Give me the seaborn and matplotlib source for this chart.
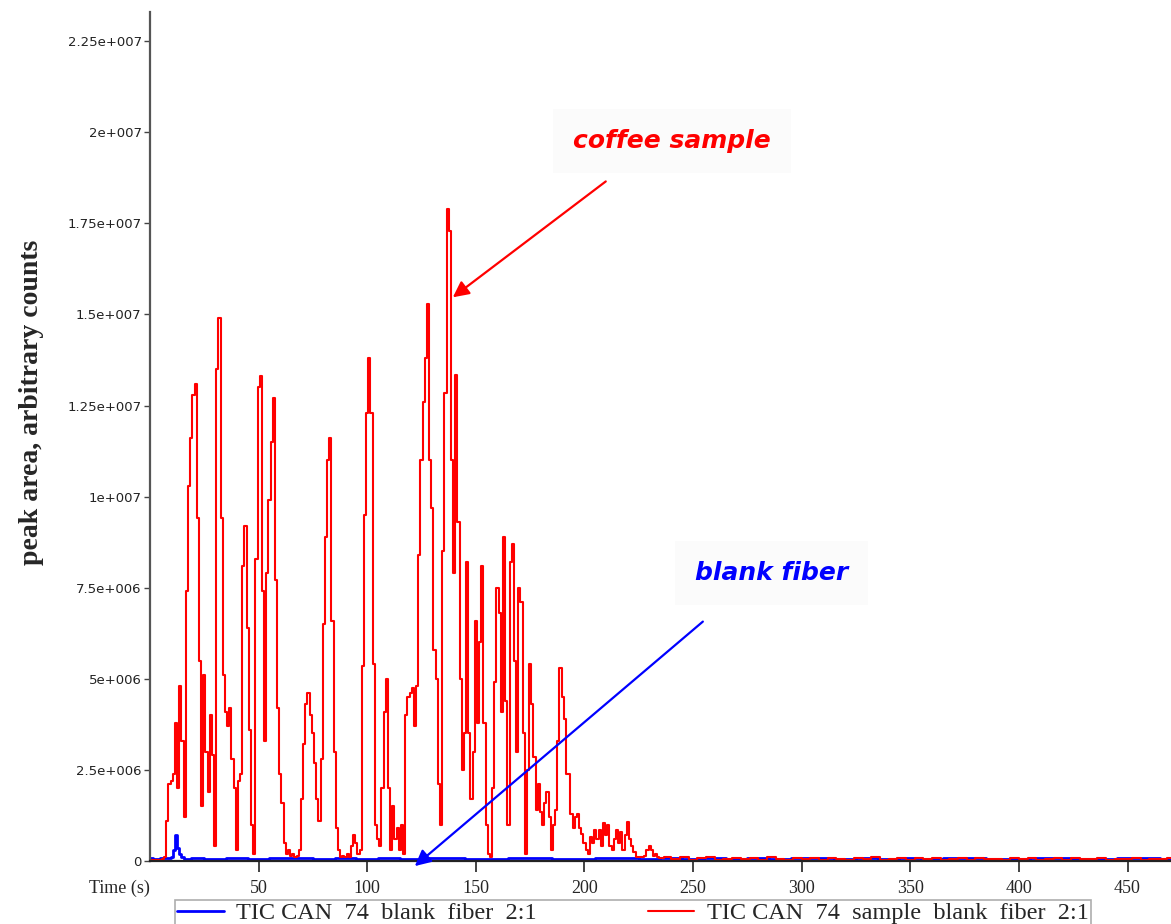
import numpy as np
import pandas as pd
import matplotlib
matplotlib.use("Agg")
import matplotlib.pyplot as plt
from matplotlib.ticker import FuncFormatter
import seaborn as sns

# ---------------- data (counts in millions) ----------------
red_label = "TIC CAN  74  sample  blank  fiber  2:1"
blue_label = "TIC CAN  74  blank  fiber  2:1"

red_main_time = list(range(0, 236))
red_main_vals = [
    0.02, 0.03, 0.02, 0.03, 0.02, 0.03, 0.05, 0.1, 1.1, 2.1,
    2.2, 2.4, 3.8, 2.0, 4.8, 3.3, 1.2, 7.4, 10.3, 11.6,
    12.8, 13.1, 9.4, 5.5, 1.5, 5.1, 3.0, 1.9, 4.0, 2.9,
    0.4, 13.5, 14.9, 9.4, 5.1, 4.1, 3.7, 4.2, 2.8, 2.0,
    0.3, 2.2, 2.4, 8.1, 9.2, 6.4, 3.6, 1.0, 0.2, 8.3,
    13.0, 13.3, 7.4, 3.3, 7.9, 9.9, 11.5, 12.7, 7.7, 4.2,
    2.4, 1.6, 0.5, 0.2, 0.3, 0.15, 0.2, 0.1, 0.15, 0.3,
    1.7, 3.2, 4.3, 4.6, 4.0, 3.5, 2.7, 1.7, 1.1, 2.8,
    6.5, 8.9, 11.0, 11.6, 6.6, 3.0, 0.9, 0.3, 0.1, 0.15,
    0.1, 0.2, 0.1, 0.4, 0.7, 0.5, 0.2, 0.3, 5.35, 9.5,
    12.3, 13.8, 12.3, 5.4, 1.0, 0.6, 0.4, 2.0, 4.1, 5.0,
    2.0, 0.3, 1.5, 0.6, 0.9, 0.3, 1.0, 0.2, 4.0, 4.5,
    4.6, 4.75, 3.7, 4.8, 8.4, 11.0, 12.6, 13.8, 15.3, 11.0,
    9.7, 5.8, 5.0, 2.1, 1.0, 8.5, 12.85, 17.9, 17.3, 11.0,
    7.9, 13.35, 9.3, 5.0, 2.5, 3.5, 8.2, 3.5, 1.7, 3.0,
    6.6, 3.8, 6.0, 8.1, 3.8, 1.0, 0.2, 0.1, 2.0, 4.9,
    7.5, 6.8, 4.1, 8.9, 4.4, 1.0, 8.2, 8.7, 5.5, 3.0,
    7.5, 7.1, 3.5, 0.2, 2.5, 5.4, 4.3, 2.85, 1.4, 2.1,
    1.35, 1.0, 1.6, 1.9, 1.2, 0.3, 1.0, 1.4, 3.3, 5.3,
    4.5, 3.9, 2.4, 2.4, 1.3, 0.9, 1.2, 1.3, 0.9, 0.75,
    0.5, 0.3, 0.2, 0.67, 0.5, 0.85, 0.6, 0.85, 0.4, 1.05,
    0.7, 1.0, 0.4, 0.3, 0.6, 0.85, 0.5, 0.8, 0.3, 0.7,
    1.07, 0.6, 0.4, 0.25, 0.1, 0.1, 0.1, 0.1, 0.15, 0.3,
    0.4, 0.3, 0.15, 0.2, 0.1, 0.08,
]
red_tail_time = list(range(238, 471, 4))
red_tail_vals = [
    0.1, 0.05, 0.12, 0.04, 0.08, 0.1, 0.03, 0.06, 0.09, 0.05,
    0.07, 0.04, 0.1, 0.06, 0.03, 0.08, 0.05, 0.09, 0.04, 0.07,
    0.06, 0.03, 0.08, 0.05, 0.1, 0.04, 0.06, 0.08, 0.03, 0.07,
    0.05, 0.09, 0.04, 0.06, 0.08, 0.03, 0.07, 0.05, 0.06, 0.04,
    0.08, 0.05, 0.07, 0.03, 0.06, 0.09, 0.04, 0.07, 0.05, 0.06,
    0.08, 0.04, 0.06, 0.05, 0.07, 0.03, 0.06, 0.05, 0.07,
]

blue_head_time = [0, 3, 6, 9, 10, 11, 12, 13, 14, 15, 16, 18, 20]
blue_head_vals = [0.07, 0.06, 0.07, 0.08, 0.1, 0.3, 0.7, 0.35, 0.18, 0.1, 0.06, 0.05, 0.07]
blue_tail_time = list(range(30, 471, 10))
blue_tail_vals = [
    0.06, 0.08, 0.05, 0.07, 0.09, 0.06, 0.07, 0.05, 0.08, 0.06,
    0.07, 0.09, 0.05, 0.06, 0.08, 0.07, 0.05, 0.06, 0.09, 0.07,
    0.06, 0.08, 0.05, 0.07, 0.06, 0.09, 0.05, 0.07, 0.08, 0.06,
    0.07, 0.05, 0.08, 0.06, 0.09, 0.07, 0.05, 0.06, 0.08, 0.07,
    0.06, 0.05, 0.08, 0.07, 0.06,
]

y_ticks = [0, 2.5e6, 5e6, 7.5e6, 1e7, 1.25e7, 1.5e7, 1.75e7, 2e7, 2.25e7]
x_ticks = [50, 100, 150, 200, 250, 300, 350, 400, 450]

df_red = pd.DataFrame({"time": red_main_time + red_tail_time,
                       "counts": np.array(red_main_vals + red_tail_vals) * 1e6})
df_blue = pd.DataFrame({"time": blue_head_time + blue_tail_time,
                        "counts": np.array(blue_head_vals + blue_tail_vals) * 1e6})

# ---------------- figure ----------------
sns.set_style("white")
W, H = 1171, 924
fig = plt.figure(figsize=(W / 100, H / 100), dpi=100)
ax = fig.add_axes([150 / W, 63 / H, 1021 / W, 849 / H])

sns.lineplot(data=df_blue, x="time", y="counts", ax=ax, color="#0000ff",
             lw=2.0, drawstyle="steps-mid", estimator=None, label=blue_label)
sns.lineplot(data=df_red, x="time", y="counts", ax=ax, color="#ff0000",
             lw=1.5, drawstyle="steps-mid", estimator=None, label=red_label)

handles, labels = ax.get_legend_handles_labels()
ax.get_legend().remove()

ax.set_xlim(0, 470)
ax.set_ylim(0, 2.33e7)
ax.set_xlabel("")
ax.set_ylabel("")

for s in ("top", "right"):
    ax.spines[s].set_visible(False)
ax.spines["left"].set_color("#555555")
ax.spines["left"].set_linewidth(1.6)
ax.spines["bottom"].set_color("#222222")
ax.spines["bottom"].set_linewidth(1.6)


def sci_fmt(v, pos):
    if v == 0:
        return "0"
    e = int(np.floor(np.log10(abs(v))))
    m = v / 10 ** e
    return f"{m:g}e+{e:03d}"


ax.set_yticks(y_ticks)
ax.yaxis.set_major_formatter(FuncFormatter(sci_fmt))
ax.set_xticks(x_ticks)
ax.tick_params(axis="y", direction="out", length=4, width=1, pad=2,
               labelsize=9.5, labelcolor="#222222", color="#444444", left=True)
ax.tick_params(axis="x", direction="out", length=8, width=1.2, pad=6,
               labelsize=13, color="#222222", bottom=True)
for lab in ax.get_xticklabels():
    lab.set_family("Liberation Serif")

fig.text(150 / W, 1 - 888 / H, "Time (s)", ha="right", va="center",
         fontsize=13, family="Liberation Serif")
fig.text(32 / W, 1 - 402 / H, "peak area, arbitrary counts", rotation=90,
         ha="center", va="center", fontsize=20, fontweight="bold",
         family="Liberation Serif")

# annotations
ax.annotate("", xy=(139.4, 15.47e6), xytext=(209.8, 18.65e6),
            arrowprops=dict(arrowstyle="-|>", color="#ff0000", lw=1.6,
                            mutation_scale=24, shrinkA=0, shrinkB=0))
ax.annotate("", xy=(121.9, -0.14e6), xytext=(254.5, 6.57e6),
            annotation_clip=False,
            arrowprops=dict(arrowstyle="-|>", color="#0000ff", lw=1.6,
                            mutation_scale=24, shrinkA=0, shrinkB=0))
ax.text(240.2, 19.75e6, "coffee sample", color="#ff0000", fontsize=18,
        fontweight="bold", fontstyle="italic", ha="center", va="center",
        bbox=dict(boxstyle="square,pad=0.8", facecolor="#fbfbfb", edgecolor="none"))
ax.text(286.2, 7.91e6, "blank fiber", color="#0000ff", fontsize=18,
        fontweight="bold", fontstyle="italic", ha="center", va="center",
        bbox=dict(boxstyle="square,pad=0.8", facecolor="#fbfbfb", edgecolor="none"))

leg = fig.legend(handles, labels, loc="upper left",
                 bbox_to_anchor=(175 / W, 1 - 900 / H), ncol=2,
                 prop={"family": "Liberation Serif", "size": 17.5},
                 frameon=True, fancybox=False, edgecolor="#999999",
                 handlelength=1.9, handletextpad=0.5, columnspacing=4.6,
                 borderpad=0.1, borderaxespad=0)
leg.get_frame().set_linewidth(1.2)

fig.savefig("out.png", dpi=100)
